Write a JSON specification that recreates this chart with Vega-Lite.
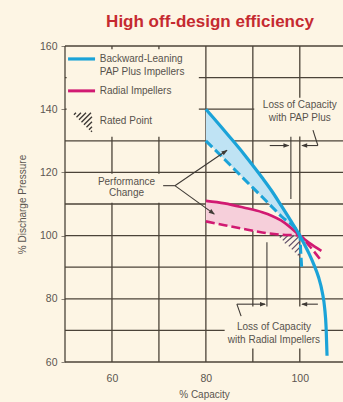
{
  "$schema": "https://vega.github.io/schema/vega-lite/v6.json",
  "width": 278,
  "height": 316,
  "autosize": "none",
  "padding": {"left": 65, "top": 46, "right": 0, "bottom": 40},
  "background": "#fdf5e4",
  "title": {
    "text": "High off-design efficiency",
    "color": "#c52a30",
    "fontSize": 17,
    "fontWeight": "bold",
    "font": "Liberation Sans",
    "anchor": "middle",
    "dx": 6,
    "offset": -3,
    "baseline": "alphabetic"
  },
  "config": {"view": {"stroke": null}, "font": "Liberation Sans"},
  "datasets": {
    "grid": [
      {"x": 50, "x2": 50, "y": 60, "y2": 160},
      {"x": 60, "x2": 60, "y": 60, "y2": 160},
      {"x": 70, "x2": 70, "y": 60, "y2": 160},
      {"x": 80, "x2": 80, "y": 60, "y2": 160},
      {"x": 90, "x2": 90, "y": 60, "y2": 160},
      {"x": 100, "x2": 100, "y": 60, "y2": 160},
      {"x": 50, "x2": 109.2, "y": 60, "y2": 60},
      {"x": 50, "x2": 109.2, "y": 70, "y2": 70},
      {"x": 50, "x2": 109.2, "y": 80, "y2": 80},
      {"x": 50, "x2": 109.2, "y": 90, "y2": 90},
      {"x": 50, "x2": 109.2, "y": 100, "y2": 100},
      {"x": 50, "x2": 109.2, "y": 110, "y2": 110},
      {"x": 50, "x2": 109.2, "y": 120, "y2": 120},
      {"x": 50, "x2": 109.2, "y": 130, "y2": 130},
      {"x": 50, "x2": 109.2, "y": 140, "y2": 140},
      {"x": 50, "x2": 109.2, "y": 150, "y2": 150},
      {"x": 50, "x2": 109.2, "y": 160, "y2": 160}
    ],
    "masks": [
      {"x": 50.35, "x2": 78.5, "y": 131.3, "y2": 159},
      {"x": 50.35, "x2": 70.4, "y": 110.4, "y2": 119.6},
      {"x": 90.3, "x2": 109.2, "y": 131.4, "y2": 143.6},
      {"x": 84, "x2": 104.6, "y": 64.3, "y2": 77.6}
    ],
    "bands": [
      {"band": "pap", "x": 80, "y": 140, "y2": 130},
      {"band": "pap", "x": 82, "y": 136.6, "y2": 127.1},
      {"band": "pap", "x": 84, "y": 133.1, "y2": 124.1},
      {"band": "pap", "x": 86, "y": 129.6, "y2": 121.1},
      {"band": "pap", "x": 88, "y": 126, "y2": 118.1},
      {"band": "pap", "x": 90, "y": 122.2, "y2": 115.1},
      {"band": "pap", "x": 92, "y": 118.3, "y2": 112.2},
      {"band": "pap", "x": 94, "y": 114.2, "y2": 109.2},
      {"band": "pap", "x": 96, "y": 109.6, "y2": 106.2},
      {"band": "pap", "x": 98, "y": 104.9, "y2": 103.1},
      {"band": "pap", "x": 100, "y": 100, "y2": 100},
      {"band": "radial", "x": 80, "y": 111, "y2": 104.5},
      {"band": "radial", "x": 84, "y": 110.2, "y2": 103.3},
      {"band": "radial", "x": 88, "y": 108.9, "y2": 102.1},
      {"band": "radial", "x": 92, "y": 107.4, "y2": 101},
      {"band": "radial", "x": 94, "y": 106.3, "y2": 100.6},
      {"band": "radial", "x": 96, "y": 104.8, "y2": 100.3},
      {"band": "radial", "x": 98, "y": 102.6, "y2": 100.1},
      {"band": "radial", "x": 100, "y": 100, "y2": 100}
    ],
    "ratedHatch": [
      {"x": 95.74, "y": 99.43, "x2": 96.17, "y2": 100},
      {"x": 96.38, "y": 98.49, "x2": 97.45, "y2": 100},
      {"x": 96.81, "y": 97.54, "x2": 98.72, "y2": 100},
      {"x": 97.66, "y": 96.59, "x2": 100, "y2": 100},
      {"x": 98.3, "y": 95.65, "x2": 100, "y2": 98.17},
      {"x": 98.94, "y": 94.7, "x2": 100, "y2": 96.28},
      {"x": 99.57, "y": 93.75, "x2": 100, "y2": 94.38}
    ],
    "curves": [
      {"series": "pap", "x": 80, "y": 140},
      {"series": "pap", "x": 82, "y": 136.6},
      {"series": "pap", "x": 84, "y": 133.1},
      {"series": "pap", "x": 86, "y": 129.6},
      {"series": "pap", "x": 88, "y": 126},
      {"series": "pap", "x": 90, "y": 122.2},
      {"series": "pap", "x": 92, "y": 118.3},
      {"series": "pap", "x": 94, "y": 114.2},
      {"series": "pap", "x": 96, "y": 109.6},
      {"series": "pap", "x": 98, "y": 104.9},
      {"series": "pap", "x": 100, "y": 100},
      {"series": "pap", "x": 101, "y": 97.2},
      {"series": "pap", "x": 102, "y": 94.2},
      {"series": "pap", "x": 103, "y": 90.8},
      {"series": "pap", "x": 104, "y": 86.8},
      {"series": "pap", "x": 104.8, "y": 82},
      {"series": "pap", "x": 105.3, "y": 77},
      {"series": "pap", "x": 105.6, "y": 71},
      {"series": "pap", "x": 105.8, "y": 62},
      {"series": "pap_low", "x": 80, "y": 130},
      {"series": "pap_low", "x": 84, "y": 124.1},
      {"series": "pap_low", "x": 88, "y": 118.1},
      {"series": "pap_low", "x": 92, "y": 112.2},
      {"series": "pap_low", "x": 96, "y": 106.2},
      {"series": "pap_low", "x": 100, "y": 100},
      {"series": "pap_low", "x": 100.2, "y": 95},
      {"series": "pap_low", "x": 100.4, "y": 90},
      {"series": "radial", "x": 80, "y": 111},
      {"series": "radial", "x": 84, "y": 110.2},
      {"series": "radial", "x": 88, "y": 108.9},
      {"series": "radial", "x": 92, "y": 107.4},
      {"series": "radial", "x": 94, "y": 106.3},
      {"series": "radial", "x": 96, "y": 104.8},
      {"series": "radial", "x": 98, "y": 102.6},
      {"series": "radial", "x": 100, "y": 100},
      {"series": "radial", "x": 102, "y": 97.7},
      {"series": "radial", "x": 104.6, "y": 95.2},
      {"series": "radial_low", "x": 80, "y": 104.5},
      {"series": "radial_low", "x": 84, "y": 103.3},
      {"series": "radial_low", "x": 88, "y": 102.1},
      {"series": "radial_low", "x": 92, "y": 101},
      {"series": "radial_low", "x": 96, "y": 100.3},
      {"series": "radial_low", "x": 100, "y": 100},
      {"series": "radial_low", "x": 102, "y": 96.8},
      {"series": "radial_low", "x": 104.7, "y": 91.8}
    ],
    "leaders": [
      {"x": 98.1, "y": 131.3, "x2": 98.1, "y2": 111.6},
      {"x": 93, "y": 97.9, "x2": 93, "y2": 77.6},
      {"x": 70.9, "y": 115.8, "x2": 73.4, "y2": 115.8},
      {"x": 73.4, "y": 115.8, "x2": 84.5, "y2": 127},
      {"x": 73.4, "y": 115.8, "x2": 81.8, "y2": 106.8},
      {"x": 93.6, "y": 128.5, "x2": 97.6, "y2": 128.5},
      {"x": 103.85, "y": 128.5, "x2": 100.5, "y2": 128.5},
      {"x": 103.85, "y": 128.5, "x2": 102.8, "y2": 133.4},
      {"x": 86.6, "y": 78.3, "x2": 92.6, "y2": 78.3},
      {"x": 86.6, "y": 78.3, "x2": 87.5, "y2": 74.5},
      {"x": 103.85, "y": 78.3, "x2": 100.5, "y2": 78.3}
    ],
    "headsRight": [
      {"x": 97.8, "y": 128.5},
      {"x": 92.8, "y": 78.3}
    ],
    "headsLeft": [
      {"x": 100.3, "y": 128.5},
      {"x": 100.3, "y": 78.3}
    ],
    "headUp": [{"x": 84.6, "y": 127.1}],
    "headDown": [{"x": 81.9, "y": 106.7}],
    "notes": [
      {"x": 100, "y": 141.3, "text": "Loss of Capacity"},
      {"x": 100, "y": 137.2, "text": "with PAP Plus"},
      {"x": 63.1, "y": 117, "text": "Performance"},
      {"x": 63.1, "y": 113.5, "text": "Change"},
      {"x": 94.5, "y": 71.1, "text": "Loss of Capacity"},
      {"x": 94.5, "y": 67, "text": "with Radial Impellers"}
    ],
    "keyText": [
      {"x": 57.4, "y": 155.9, "text": "Backward-Leaning"},
      {"x": 57.4, "y": 151.8, "text": "PAP Plus Impellers"},
      {"x": 57.4, "y": 145.8, "text": "Radial Impellers"},
      {"x": 57.4, "y": 136.3, "text": "Rated Point"}
    ],
    "keyPap": [{"x": 50.65, "x2": 56.4, "y": 155.9, "y2": 155.9}],
    "keyRadial": [{"x": 50.65, "x2": 56.4, "y": 145.8, "y2": 145.8}],
    "keyHatch": [
      {"x": 51.91, "y": 138.23, "x2": 52.34, "y2": 138.86},
      {"x": 52.45, "y": 137.44, "x2": 53.4, "y2": 138.86},
      {"x": 52.98, "y": 136.66, "x2": 54.47, "y2": 138.86},
      {"x": 53.51, "y": 135.87, "x2": 55.53, "y2": 138.86},
      {"x": 54.04, "y": 135.08, "x2": 55.74, "y2": 137.6},
      {"x": 54.57, "y": 134.29, "x2": 55.74, "y2": 136.03},
      {"x": 55.11, "y": 133.5, "x2": 55.74, "y2": 134.45},
      {"x": 55.53, "y": 132.87, "x2": 55.74, "y2": 133.19}
    ]
  },
  "encoding": {
    "x": {
      "field": "x",
      "type": "quantitative",
      "scale": {"domain": [50, 109.2], "nice": false, "zero": false},
      "axis": {
        "values": [60, 80, 100],
        "title": "% Capacity",
        "grid": false,
        "domain": false,
        "ticks": false,
        "labelPadding": 11,
        "labelFontSize": 10.5,
        "labelColor": "#5b5650",
        "labelFont": "Liberation Sans",
        "titleFont": "Liberation Sans",
        "titleFontSize": 10,
        "titleFontWeight": "normal",
        "titleColor": "#5b5650",
        "titlePadding": 6
      }
    },
    "y": {
      "field": "y",
      "type": "quantitative",
      "scale": {"domain": [60, 160], "nice": false, "zero": false},
      "axis": {
        "values": [60, 80, 100, 120, 140, 160],
        "title": "% Discharge Pressure",
        "grid": false,
        "domain": false,
        "tickSize": 4,
        "tickColor": "#8a8378",
        "labelPadding": 4,
        "labelFontSize": 10.5,
        "labelColor": "#5b5650",
        "labelFont": "Liberation Sans",
        "titleFont": "Liberation Sans",
        "titleFontSize": 10,
        "titleFontWeight": "normal",
        "titleColor": "#5b5650",
        "titlePadding": 12
      }
    }
  },
  "layer": [
    {
      "data": {"name": "grid"},
      "mark": {"type": "rule", "color": "#4b4338", "strokeWidth": 1.3},
      "encoding": {"x2": {"field": "x2"}, "y2": {"field": "y2"}}
    },
    {
      "data": {"name": "masks"},
      "mark": {"type": "rect", "fill": "#fdf5e4", "strokeWidth": 0},
      "encoding": {"x2": {"field": "x2"}, "y2": {"field": "y2"}}
    },
    {
      "data": {"name": "bands"},
      "mark": {"type": "area", "interpolate": "monotone", "opacity": 1},
      "encoding": {
        "y2": {"field": "y2"},
        "color": {
          "field": "band",
          "type": "nominal",
          "scale": {"domain": ["pap", "radial"], "range": ["#bfe3f4", "#f6cfda"]},
          "legend": null
        }
      }
    },
    {
      "data": {"name": "ratedHatch"},
      "mark": {"type": "rule", "color": "#5d4c68", "strokeWidth": 1.3},
      "encoding": {"x2": {"field": "x2"}, "y2": {"field": "y2"}}
    },
    {
      "data": {"name": "curves"},
      "transform": [{"filter": "datum.series === 'radial_low'"}],
      "mark": {"type": "line", "interpolate": "monotone", "color": "#d11a72", "strokeWidth": 2.6, "strokeDash": [9, 4]}
    },
    {
      "data": {"name": "curves"},
      "transform": [{"filter": "datum.series === 'radial'"}],
      "mark": {"type": "line", "interpolate": "monotone", "color": "#d11a72", "strokeWidth": 2.6}
    },
    {
      "data": {"name": "curves"},
      "transform": [{"filter": "datum.series === 'pap_low'"}],
      "mark": {"type": "line", "interpolate": "monotone", "color": "#1ba3d8", "strokeWidth": 3, "strokeDash": [9, 4]}
    },
    {
      "data": {"name": "curves"},
      "transform": [{"filter": "datum.series === 'pap'"}],
      "mark": {"type": "line", "interpolate": "monotone", "color": "#1ba3d8", "strokeWidth": 3.2}
    },
    {
      "data": {"name": "leaders"},
      "mark": {"type": "rule", "color": "#3f3a35", "strokeWidth": 1.1},
      "encoding": {"x2": {"field": "x2"}, "y2": {"field": "y2"}}
    },
    {
      "data": {"name": "headsRight"},
      "mark": {"type": "point", "shape": "M0,0L-1,-0.38L-1,0.38Z", "size": 144, "filled": true, "color": "#3f3a35", "opacity": 1}
    },
    {
      "data": {"name": "headsLeft"},
      "mark": {"type": "point", "shape": "M0,0L1,-0.38L1,0.38Z", "size": 144, "filled": true, "color": "#3f3a35", "opacity": 1}
    },
    {
      "data": {"name": "headUp"},
      "mark": {"type": "point", "shape": "M0,0L-1,-0.38L-1,0.38Z", "angle": -34, "size": 144, "filled": true, "color": "#3f3a35", "opacity": 1}
    },
    {
      "data": {"name": "headDown"},
      "mark": {"type": "point", "shape": "M0,0L-1,-0.38L-1,0.38Z", "angle": 36, "size": 144, "filled": true, "color": "#3f3a35", "opacity": 1}
    },
    {
      "data": {"name": "notes"},
      "mark": {"type": "text", "align": "center", "baseline": "middle", "fontSize": 10, "color": "#57524c", "font": "Liberation Sans"},
      "encoding": {"text": {"field": "text"}}
    },
    {
      "data": {"name": "keyPap"},
      "mark": {"type": "rule", "color": "#1ba3d8", "strokeWidth": 3.2},
      "encoding": {"x2": {"field": "x2"}, "y2": {"field": "y2"}}
    },
    {
      "data": {"name": "keyRadial"},
      "mark": {"type": "rule", "color": "#d11a72", "strokeWidth": 3},
      "encoding": {"x2": {"field": "x2"}, "y2": {"field": "y2"}}
    },
    {
      "data": {"name": "keyHatch"},
      "mark": {"type": "rule", "color": "#3a3633", "strokeWidth": 1.3},
      "encoding": {"x2": {"field": "x2"}, "y2": {"field": "y2"}}
    },
    {
      "data": {"name": "keyText"},
      "mark": {"type": "text", "align": "left", "baseline": "middle", "fontSize": 10, "color": "#57524c", "font": "Liberation Sans"},
      "encoding": {"text": {"field": "text"}}
    }
  ]
}
